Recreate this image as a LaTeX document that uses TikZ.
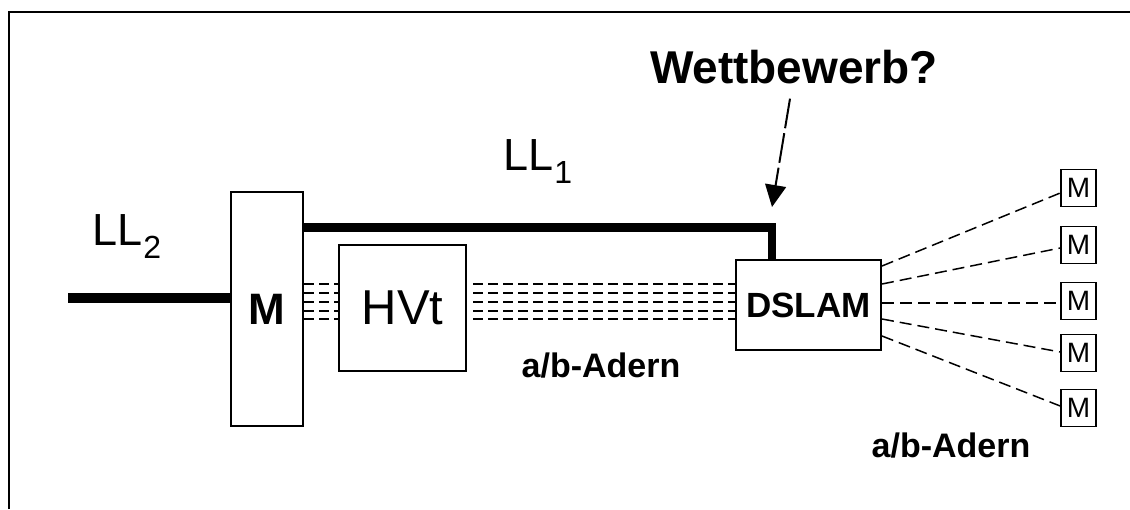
\documentclass[tikz,border=0pt]{standalone}
\usepackage{fontspec}
\setmainfont{Liberation Sans}
\usetikzlibrary{arrows.meta}
\begin{document}
\begin{tikzpicture}[x=1pt,y=-1pt,
  box/.style={draw,line width=2pt,inner sep=0pt},
  bundle/.style={line width=1.8pt,dash pattern=on 10pt off 5pt},
  fan/.style={line width=1.5pt,dash pattern=on 12pt off 6pt},
  modem/.style={box,line width=1.6pt,minimum width=35pt,minimum height=37pt,font=\fontsize{28}{28}\selectfont},
  lab/.style={font=\bfseries\fontsize{34}{34}\selectfont,inner sep=0pt,anchor=base},
  ll/.style={font=\fontsize{45}{45}\selectfont,inner sep=0pt,anchor=base west}]
\useasboundingbox (0,0) rectangle (1130,509);
\draw[line width=2pt] (9,509) -- (9,12) -- (1130,12);
% boxes
\node[box,minimum width=72pt,minimum height=234pt,font=\bfseries\fontsize{44}{44}\selectfont] (mux) at (267,309) {M};
\node[box,minimum width=127pt,minimum height=126pt,font=\fontsize{49}{49}\selectfont] (hvt) at (402.5,308) {HVt};
\node[box,minimum width=145pt,minimum height=90pt,font=\bfseries\fontsize{35}{35}\selectfont] (dslam) at (808.5,305) {DSLAM};
\foreach \y [count=\i] in {188,245,301,353,408}
  \node[modem] (m\i) at (1078.5,\y) {M};
% LL2 line
\coordinate (ll2) at (68,297.5);
\draw[line width=10pt] (ll2) -- (ll2 -| mux.west);
% LL1 line
\coordinate (knee) at (772,227.5);
\draw[line width=8.5pt,line join=miter] (knee -| mux.east) -- (knee) -- (knee |- dslam.north);
% bundles
\coordinate (hvtR) at ([xshift=6pt]hvt.east);
\foreach \y in {284,293,302,311,319}{
  \draw[bundle] (mux.east |- 0,\y) -- (hvt.west |- 0,\y);
  \draw[bundle] (hvtR |- 0,\y) -- (dslam.west |- 0,\y);
}
% fan
\foreach \s/\e [count=\i] in {266/193,284/248,303/303,319/352,336/406}
  \draw[fan] (dslam.east |- 0,\s) -- (m\i.west |- 0,\e);
% labels
\node[ll] (ll2lab) at (92,245) {LL\kern1pt\raisebox{-13pt}{\fontsize{32}{32}\selectfont 2}};
\node[ll] (ll1lab) at (503,170) {LL\kern1pt\raisebox{-13pt}{\fontsize{32}{32}\selectfont 1}};
\node[lab] (ab1) at (601,377) {a/b-Adern};
\node[lab] (ab2) at (951,457) {a/b-Adern};
\node[inner sep=0pt,anchor=base,font=\bfseries\fontsize{46}{46}\selectfont] (wb) at (794,83) {Wettbewerb?};
\coordinate (tip) at (772,207);
\draw[line width=2pt,dash pattern=on 30pt off 5pt,-{Triangle[length=22pt,width=21pt]}] ([shift={(-4,15)}]wb.south) -- (tip);
\end{tikzpicture}
\end{document}
